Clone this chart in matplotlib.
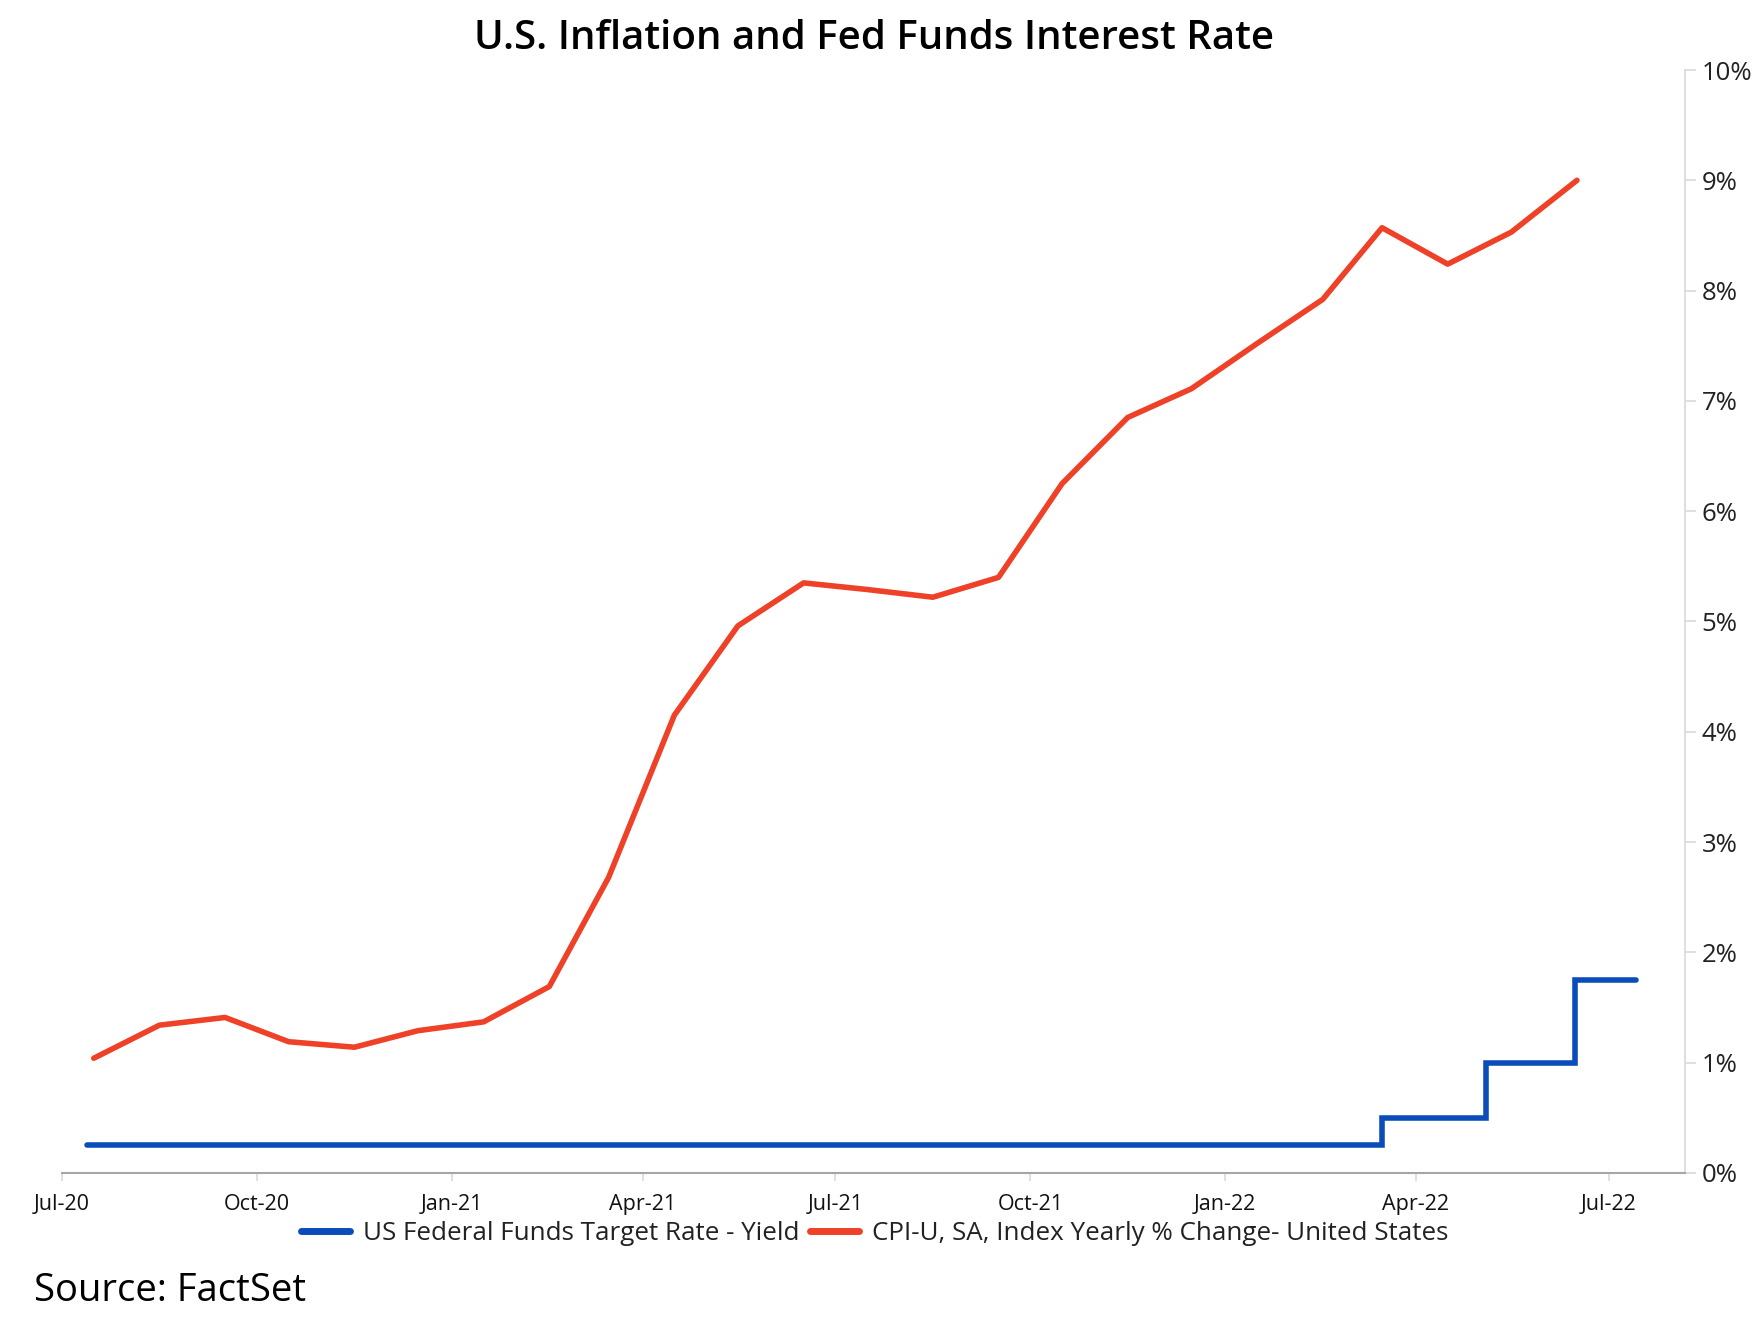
import matplotlib
matplotlib.use("Agg")
import matplotlib.pyplot as plt
import matplotlib.dates as mdates
from matplotlib.ticker import FixedLocator, FuncFormatter
import datetime as dt

plt.rcParams['font.family'] = ['Open Sans', 'DejaVu Sans']

# CPI-U yearly % change (monthly observations)
cpi_months = ["2020-07", "2020-08", "2020-09", "2020-10", "2020-11", "2020-12",
              "2021-01", "2021-02", "2021-03", "2021-04", "2021-05", "2021-06",
              "2021-07", "2021-08", "2021-09", "2021-10", "2021-11", "2021-12",
              "2022-01", "2022-02", "2022-03", "2022-04", "2022-05", "2022-06"]
cpi_values = [1.04, 1.34, 1.41, 1.19, 1.14, 1.29,
              1.37, 1.69, 2.68, 4.15, 4.96, 5.35,
              5.29, 5.22, 5.40, 6.25, 6.85, 7.11,
              7.52, 7.92, 8.57, 8.24, 8.53, 9.0]

# Fed funds target rate (upper bound), change dates
fed_dates = ["2020-07-13", "2022-03-16", "2022-05-04", "2022-06-15", "2022-07-14"]
fed_values = [0.25, 0.50, 1.00, 1.75, 1.75]

tick_labels = ["Jul-20", "Oct-20", "Jan-21", "Apr-21", "Jul-21",
               "Oct-21", "Jan-22", "Apr-22", "Jul-22"]
tick_dates = ["2020-07-01", "2020-10-01", "2021-01-01", "2021-04-01", "2021-07-01",
              "2021-10-01", "2022-01-01", "2022-04-01", "2022-07-01"]
y_ticks = [0, 1, 2, 3, 4, 5, 6, 7, 8, 9, 10]

red = '#EE4127'
blue = '#0A4DBA'

cpi_x = [dt.datetime.strptime(m + "-16", "%Y-%m-%d") for m in cpi_months]
fed_x = [dt.datetime.strptime(d, "%Y-%m-%d") for d in fed_dates]
tick_x = [mdates.date2num(dt.datetime.strptime(d, "%Y-%m-%d")) for d in tick_dates]

fig = plt.figure(figsize=(17.65, 13.41), dpi=100)
ax = fig.add_axes([0.0351, 0.1253, 0.9196, 0.8225])

ax.step(fed_x, fed_values, where='post', color=blue, lw=4.0,
        solid_capstyle='round', solid_joinstyle='miter',
        label='US Federal Funds Target Rate - Yield')
ax.plot(cpi_x, cpi_values, color=red, lw=4.0, solid_capstyle='round',
        label='CPI-U, SA, Index Yearly % Change- United States')

ax.set_xlim(mdates.date2num(dt.datetime(2020, 7, 1)), mdates.date2num(dt.datetime(2022, 8, 6)))
ax.set_ylim(0, 10)

ax.xaxis.set_major_locator(FixedLocator(tick_x))
ax.set_xticklabels(tick_labels)
ax.yaxis.tick_right()
ax.yaxis.set_major_locator(FixedLocator(y_ticks))
ax.yaxis.set_major_formatter(FuncFormatter(lambda v, p: f"{int(v)}%"))

for s in ['top', 'left']:
    ax.spines[s].set_visible(False)
ax.spines['bottom'].set_color('#A6A6A6')
ax.spines['bottom'].set_linewidth(1.5)
ax.spines['right'].set_color('#D9D9D9')
ax.spines['right'].set_linewidth(1.2)

ax.tick_params(axis='x', colors='#D9D9D9', length=6, width=1.2, labelcolor='#111111',
               labelsize=15.5, pad=9)
ax.tick_params(axis='y', colors='#D9D9D9', length=8, width=1.2, labelcolor='#222222',
               labelsize=18.5, pad=4)

fig.text(0.4955, 0.971, 'U.S. Inflation and Fed Funds Interest Rate', ha='center', va='center',
         fontsize=29, color='#000000', fontweight='semibold')

leg = fig.legend(loc='center', bbox_to_anchor=(0.4955, 0.0798), ncol=2, frameon=False,
                 fontsize=18.7, handlelength=1.9, handletextpad=0.5, columnspacing=0.4)
for l in leg.get_lines():
    l.set_linewidth(5)
for t in leg.get_texts():
    t.set_color('#222222')

fig.text(0.019, 0.0373, 'Source: FactSet', ha='left', va='center', fontsize=27.5, color='#000000')

fig.savefig('out.png', dpi=100, facecolor='white')
